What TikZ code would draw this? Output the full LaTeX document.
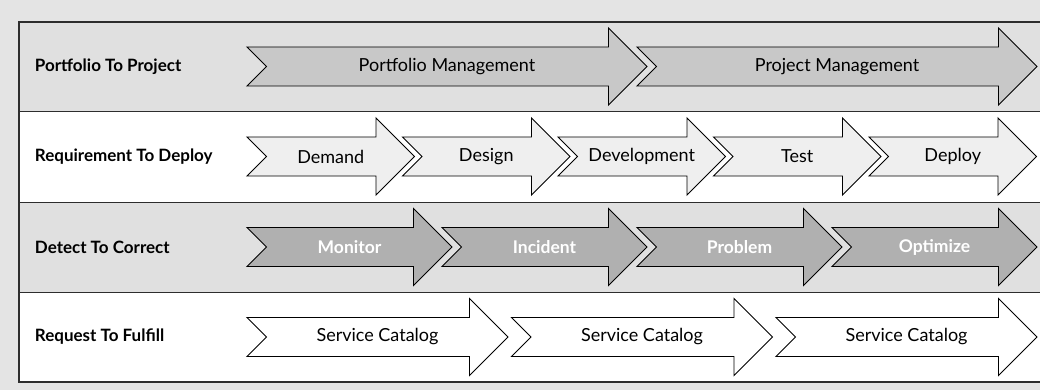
\documentclass[tikz,border=0pt]{standalone}
\usepackage{fontspec}
\setmainfont{Lato}
\definecolor{pagegrey}{RGB}{228,228,228}
\definecolor{bandgrey}{RGB}{224,224,224}
\definecolor{framegrey}{RGB}{45,45,45}
\definecolor{midgrey}{RGB}{200,200,200}
\definecolor{palegrey}{RGB}{239,239,239}
\definecolor{darkgrey}{RGB}{176,176,176}
\tikzset{
  lane label/.style={anchor=west,inner sep=0.75pt,font=\bfseries\fontsize{17}{20}\selectfont},
  stage text/.style={inner sep=0.75pt,font=\fontsize{18}{21}\selectfont},
  stage white/.style={stage text,text=white,font=\bfseries\fontsize{17.5}{21}\selectfont},
}
% arrow with notched tail: fill, text style, x tail, y centre, length, name, text
\newcommand{\stagearrow}[7]{%
  \draw [fill=#1,line width=0.9,line join=miter] (#3,#4-19.5) -- ({#3+#5-38.5},#4-19.5) -- ({#3+#5-38.5},#4-38.5) -- ({#3+#5},#4) -- ({#3+#5-38.5},#4+38.5) -- ({#3+#5-38.5},#4+19.5) -- (#3,#4+19.5) -- ({#3+19.5},#4) -- cycle ;
  \node [#2] (#6) at ({#3+#5/2},#4) {#7};
}
\begin{document}
\begin{tikzpicture}[x=1pt,y=1pt,yscale=-1]
\useasboundingbox [fill=pagegrey] (0,0) rectangle (1040,390);

%Shape: Rectangle [lanes]
\draw [framegrey,fill=bandgrey,line width=0.9] (19,22) rectangle (1050,111) ;
\draw [framegrey,fill=white,line width=0.9] (19,111) rectangle (1050,202) ;
\draw [framegrey,fill=bandgrey,line width=0.9] (19,202) rectangle (1050,292) ;
\draw [framegrey,fill=white,line width=0.9] (19,292) rectangle (1050,382) ;
\draw [framegrey,line width=1.6] (1050,22) -- (19,22) -- (19,382) -- (1050,382) ;

% Text Node
\node [lane label] (p2p) at (34,66.5) {Portfolio To Project};
\node [lane label] (r2d) at (34,156.5) {Requirement To Deploy};
\node [lane label] (d2c) at (34,247) {Detect To Correct};
\node [lane label] (r2f) at (34,337) {Request To Fulfill};

%Shape: Arrow [Portfolio To Project]
\stagearrow{midgrey}{stage text}{247}{66.5}{400}{portfolio}{Portfolio Management}
\stagearrow{midgrey}{stage text}{637}{66.5}{400}{project}{Project Management}

%Shape: Arrow [Requirement To Deploy]
\stagearrow{palegrey}{stage text}{247}{156.5}{167.5}{demand}{Demand}
\stagearrow{palegrey}{stage text}{402.5}{156.5}{167.5}{design}{Design}
\stagearrow{palegrey}{stage text}{558}{156.5}{167.5}{development}{Development}
\stagearrow{palegrey}{stage text}{713.5}{156.5}{167.5}{test}{Test}
\stagearrow{palegrey}{stage text}{869}{156.5}{167.5}{deploy}{Deploy}

%Shape: Arrow [Detect To Correct]
\stagearrow{darkgrey}{stage white}{247}{247}{205}{monitor}{Monitor}
\stagearrow{darkgrey}{stage white}{442}{247}{205}{incident}{Incident}
\stagearrow{darkgrey}{stage white}{637}{247}{205}{problem}{Problem}
\stagearrow{darkgrey}{stage white}{832}{247}{205}{optimize}{Optimize}

%Shape: Arrow [Request To Fulfill]
\stagearrow{white}{stage text}{247}{337}{261}{catalogA}{Service Catalog}
\stagearrow{white}{stage text}{511.5}{337}{261}{catalogB}{Service Catalog}
\stagearrow{white}{stage text}{776}{337}{261}{catalogC}{Service Catalog}

\end{tikzpicture}
\end{document}
